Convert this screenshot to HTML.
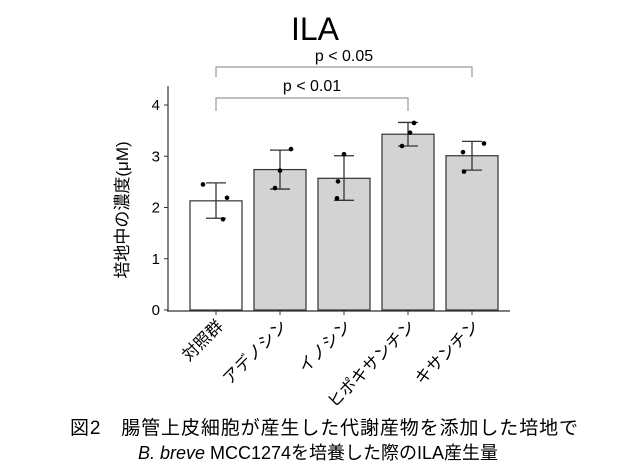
<!DOCTYPE html>
<html><head><meta charset="utf-8"><style>
body{margin:0;background:#fff;width:630px;height:473px;overflow:hidden;font-family:"Liberation Sans","Noto Sans CJK JP",sans-serif}
svg{display:block}
</style></head><body>
<svg id="c" width="630" height="473" font-family="Liberation Sans, Noto Sans CJK JP, sans-serif">
<text x="315" y="40" text-anchor="middle" font-size="32">ILA</text>
<text x="128" y="210" text-anchor="middle" font-size="17" transform="rotate(-90 128 210)">培地中の濃度(μM)</text>
<g id="plot"></g>
<text x="70" y="434" font-size="19" textLength="508">図2　腸管上皮細胞が産生した代謝産物を添加した培地で</text>
<text x="318" y="459" text-anchor="middle" font-size="18"><tspan font-style="italic">B. breve</tspan> MCC1274を培養した際のILA産生量</text>
</svg>
<script>
const categories=["対照群","アデノシン","イノシン","ヒポキサンチン","キサンチン"];
const means=[2.13,2.74,2.57,3.43,3.01];
const errLow=[1.79,2.36,2.14,3.20,2.73];
const errHigh=[2.48,3.12,3.01,3.66,3.29];
const pointVals=[[2.45,2.19,1.77],[3.14,2.72,2.38],[3.04,2.51,2.18],[3.65,3.46,3.20],[3.25,3.08,2.70]];
const pointJitter=[[-13,11,7],[11,0,-5],[0,-6,-7],[6,2,-6],[12,-9,-8]];
const yTicks=[0,1,2,3,4];
const NS="http://www.w3.org/2000/svg";
const g=document.getElementById('plot');
const y=v=>310-v*51.25;
const x=i=>216+i*64;
function mk(t,a){const e=document.createElementNS(NS,t);for(const k in a)e.setAttribute(k,a[k]);g.appendChild(e);return e;}
let ax=mk('line',{x1:168,y1:86,x2:168,y2:311,stroke:'#333','stroke-width':1.2});


let bx=mk('line',{x1:167,y1:311,x2:510,y2:311,stroke:'#333','stroke-width':1.2});


yTicks.forEach(t=>{
 const l=mk('line',{x1:164,x2:168,y1:y(t),y2:y(t),stroke:'#333'});
 
 
 const tx=mk('text',{x:160,y:y(t)+5,'text-anchor':'end','font-size':15});
 tx.textContent=t;
 
 
});
categories.forEach((c,i)=>{
 const cx=x(i);
 const b=mk('rect',{x:cx-26,y:y(means[i]),width:52,height:y(0)-y(means[i]),fill:i==0?'#fff':'#d3d3d3',stroke:'#333','stroke-width':1.2});
 
 
 mk('line',{x1:cx,x2:cx,y1:y(errLow[i]),y2:y(errHigh[i]),stroke:'#333','stroke-width':1.3});
 mk('line',{x1:cx-10,x2:cx+10,y1:y(errLow[i]),y2:y(errLow[i]),stroke:'#333','stroke-width':1.3});
 const eb=mk('line',{x1:cx-10,x2:cx+10,y1:y(errHigh[i]),y2:y(errHigh[i]),stroke:'#333','stroke-width':1.3});
 
 
 pointVals[i].forEach((v,j)=>{
  const p=mk('circle',{cx:cx+pointJitter[i][j],cy:y(v),r:2.3,fill:'#000'});
  
  
 });
 mk('line',{x1:cx,x2:cx,y1:311,y2:315,stroke:'#333'});
 const t=mk('text',{x:cx+8,y:327,'text-anchor':'end','font-size':16.5,transform:`rotate(-45 ${cx+8} 327)`});
 t.textContent=c;
 
 
});
function bracket(i1,i2,yt,yb,label,ly,lx){
 const p=mk('path',{d:`M${x(i1)} ${yb}V${yt}H${x(i2)}V${yb}`,fill:'none',stroke:'#999','stroke-width':1.2});
 
 
 const t=mk('text',{x:lx,y:ly,'text-anchor':'middle','font-size':16});
 t.textContent=label;
 
 
}
bracket(0,4,67,77,'p < 0.05',61,344);
bracket(0,3,98,111,'p < 0.01',91,312);
</script>
</body></html>
